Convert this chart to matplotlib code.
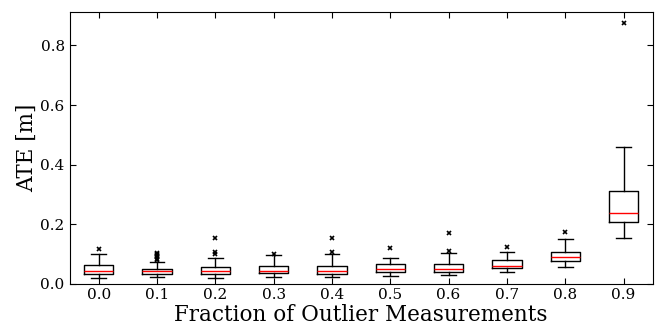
import matplotlib
matplotlib.use("Agg")
import matplotlib.pyplot as plt

# Box statistics of the ATE for each outlier fraction
fractions = ["0.0", "0.1", "0.2", "0.3", "0.4", "0.5", "0.6", "0.7", "0.8", "0.9"]
whislo = [0.019, 0.022, 0.019, 0.022, 0.021, 0.026, 0.030, 0.040, 0.056, 0.154]
q1 = [0.032, 0.031, 0.033, 0.034, 0.031, 0.038, 0.039, 0.053, 0.076, 0.207]
med = [0.044, 0.042, 0.044, 0.042, 0.044, 0.048, 0.050, 0.060, 0.090, 0.237]
q3 = [0.064, 0.049, 0.056, 0.060, 0.059, 0.066, 0.066, 0.078, 0.107, 0.310]
whishi = [0.099, 0.073, 0.085, 0.096, 0.099, 0.087, 0.104, 0.105, 0.149, 0.459]
fliers = [
    [0.116],
    [0.080, 0.084, 0.088, 0.092, 0.096, 0.100, 0.104],
    [0.101, 0.107, 0.152],
    [0.101],
    [0.107, 0.152],
    [0.118],
    [0.110, 0.169],
    [0.122],
    [0.174],
    [0.877],
]

plt.rcParams["font.family"] = "DejaVu Serif"
plt.rcParams["mathtext.fontset"] = "dejavuserif"

stats = []
for i in range(len(fractions)):
    stats.append(dict(med=med[i], q1=q1[i], q3=q3[i],
                      whislo=whislo[i], whishi=whishi[i],
                      fliers=fliers[i], label=fractions[i]))

fig = plt.figure(figsize=(6.56, 3.29), dpi=100)
ax = fig.add_axes([0.106, 0.138, 0.889, 0.826])

ax.bxp(stats, widths=0.5,
       boxprops=dict(color="black", linewidth=1.0),
       whiskerprops=dict(color="black", linewidth=1.0),
       capprops=dict(color="black", linewidth=1.0),
       medianprops=dict(color="red", linewidth=1.0),
       flierprops=dict(marker="x", markersize=3.5, markeredgecolor="black",
                       markeredgewidth=1.2, linestyle="none"))

ax.set_ylim(0, 0.913)
ax.set_xlim(0.5, len(fractions) + 0.5)
ax.tick_params(direction="in", top=True, right=True, labelsize=11, length=4)
ax.set_yticks([0.0, 0.2, 0.4, 0.6, 0.8])
ax.set_xlabel("Fraction of Outlier Measurements", fontsize=15.5, labelpad=1)
ax.set_ylabel("ATE [m]", fontsize=15.5, labelpad=2)

fig.savefig("out.png", dpi=100)
